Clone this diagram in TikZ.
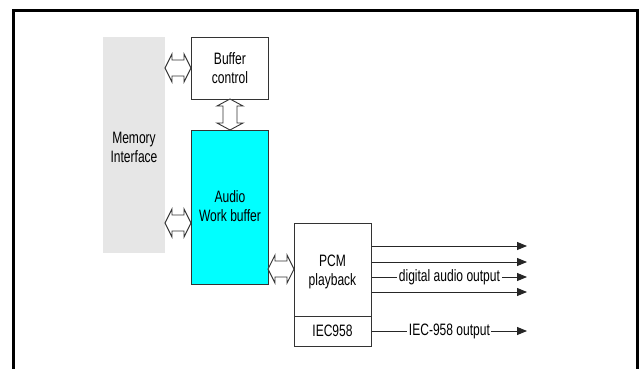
\documentclass[tikz,border=0pt]{standalone}
\usepackage{fontspec}
\setmainfont[FakeStretch=0.73]{Liberation Sans}
\usetikzlibrary{arrows.meta,calc}
\definecolor{memgray}{HTML}{E6E6E6}
\definecolor{boxline}{HTML}{333333}
\definecolor{aqua}{RGB}{0,255,255}
\tikzset{
  blk/.style={draw=boxline, line width=0.9pt, align=center, inner sep=0pt, anchor=north west},
  lbl/.style={font=\fontsize{16.5}{19}\selectfont, align=center, inner sep=0pt},
  dbl/.style={draw=boxline, line width=0.9pt, fill=white},
  outarrow/.style={draw=black!85, line width=0.9pt, -{Triangle[length=10pt,width=8pt]}},
  outlbl/.style={font=\fontsize{16.5}{19}\selectfont, fill=white, inner sep=1.5pt}
}
% horizontal double arrow: x1, x2, yc
\newcommand{\hdbl}[3]{%
  \draw[dbl] (#1,#3) -- ++(7,-14) -- ++(0,6) -- (#2-7,#3-8) -- ++(0,-6) -- (#2,#3)
    -- (#2-7,#3+14) -- ++(0,-6) -- (#1+7,#3+8) -- ++(0,6) -- cycle;}
% vertical double arrow: y1, y2, xc
\newcommand{\vdbl}[3]{%
  \draw[dbl] (#3,#1) -- ++(13,7) -- ++(-6,0) -- (#3+7,#2-7) -- ++(6,0) -- (#3,#2)
    -- (#3-13,#2-7) -- ++(6,0) -- (#3-7,#1+7) -- ++(-6,0) -- cycle;}
\begin{document}
\begin{tikzpicture}[x=1pt,y=-1pt]
\useasboundingbox (0,0) rectangle (640,369);
\fill[white] (0,0) rectangle (640,369);
% outer frame
\draw[line width=3pt] (13,375) -- (13,11) -- (637.6,11) -- (637.6,375);

% memory interface
\node[fill=memgray, anchor=north west, minimum width=62pt, minimum height=216pt, inner sep=0pt] (mem) at (103,37) {};
\node[lbl] (memtxt) at (134,147) {Memory\\Interface};

% buffer control
\node[blk, minimum width=77pt, minimum height=62pt] (buf) at (191,37) {};
\node[lbl] (buftxt) at (buf.center) {Buffer\\control};

% audio work buffer
\node[blk, fill=aqua, minimum width=77pt, minimum height=154pt] (awb) at (191,130) {};
\node[lbl] (awbtxt) at ($(awb.center)+(0,-1)$) {Audio\\Work buffer};

% PCM playback
\node[blk, minimum width=77pt, minimum height=123pt] (pcm) at (294,223) {};
\coordinate (divL) at (294,316);
\coordinate (divR) at (371,316);
\draw[boxline, line width=0.9pt] (divL) -- (divR);
\node[lbl] (pcmtxt) at (332.5,272) {PCM\\playback};
\node[lbl] (iectxt) at (332.5,331) {IEC958};

% double arrows
\hdbl{165}{191}{68}
\hdbl{165}{191}{223}
\hdbl{268}{294}{269}
\vdbl{99}{130}{230}

% outputs
\coordinate (o1) at (527,246);
\coordinate (o2) at (527,262);
\coordinate (o3) at (527,277);
\coordinate (o4) at (527,292);
\coordinate (o5) at (527,331);
\draw[outarrow] (pcm.east |- o1) -- (o1);
\draw[outarrow] (pcm.east |- o2) -- (o2);
\draw[outarrow] (pcm.east |- o3) -- node[outlbl, pos=0.5] (dao) {digital audio output} (o3);
\draw[outarrow] (pcm.east |- o4) -- (o4);
\draw[outarrow] (pcm.east |- o5) -- node[outlbl, pos=0.5] (ieco) {IEC-958 output} (o5);
\end{tikzpicture}
\end{document}
